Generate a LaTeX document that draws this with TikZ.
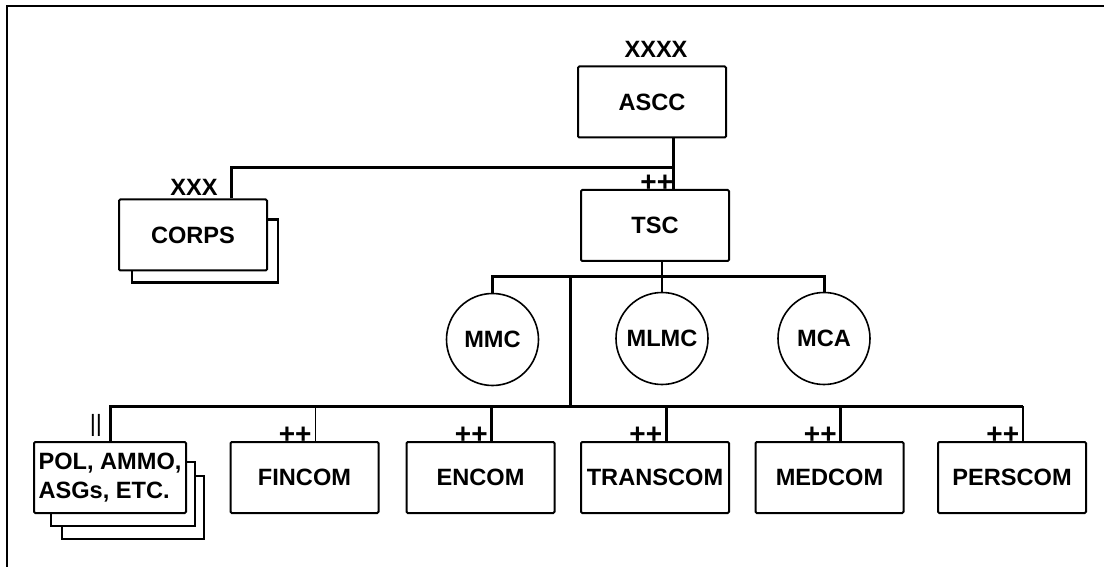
\documentclass[tikz,border=0pt]{standalone}
\usepackage{fontspec}
\setmainfont{Liberation Sans}

\begin{document}
\begin{tikzpicture}[x=0.5pt, y=-0.5pt,
  unitbox/.style={draw, line width=1pt, rounded corners=0.6pt, fill=white, minimum width=74pt, minimum height=35.5pt, inner sep=2pt, font=\fontsize{11.8}{14.5}\selectfont\bfseries},
  cellnode/.style={draw, circle, line width=0.8pt, minimum size=46pt, inner sep=0pt, font=\fontsize{11.8}{14.5}\selectfont\bfseries},
  echelon/.style={inner sep=0pt, font=\fontsize{11.8}{14.5}\selectfont\bfseries, anchor=base},
  plus/.style={inner sep=0pt, font=\fontsize{14}{14}\selectfont\bfseries, anchor=base east},
  bus/.style={line width=1.5pt},
  stem/.style={line width=0.9pt},
  stack/.style={line width=1.1pt}]
\useasboundingbox (0,0) rectangle (1105,567);
\draw[line width=1.1pt] (7,567) -- (7,6) -- (1104,6);

%% top
\node[unitbox] (ascc) at (652,102) {ASCC};
\node[echelon] (ascc-ech) at ([shift={(4,-8)}]ascc.north) {XXXX};
\node[unitbox] (tsc) at (655,225.5) {TSC};
\node[plus] (tsc-ech) at ([shift={(18.5,3)}]tsc.north) {++};
\node[unitbox] (corps) at (193,235) {CORPS};
\node[echelon] (corps-ech) at ([shift={(1,-3)}]corps.north) {XXX};
\draw[stack] ([shift={(0,21)}]corps.north east) -| ([shift={(10,11)}]corps.south east) -| ([shift={(14,0)}]corps.south west);

\coordinate (hqbus) at (673,168);
\coordinate (cpsjoin) at (231,168);
\draw[bus] (ascc.south -| hqbus) -- (tsc.north -| hqbus);
\draw[bus] (hqbus) -- (cpsjoin) -- (cpsjoin |- corps.north);

%% management cells
\node[cellnode] (mmc) at (492.5,339.5) {MMC};
\node[cellnode] (mlmc) at (662,338.5) {MLMC};
\node[cellnode] (mca) at (824,338.5) {MCA};
\coordinate (cellbus) at (570,277);
\coordinate (cmdbus) at (570,406);
\draw[stem] (tsc.south -| mlmc) -- (mlmc.north);
\draw[bus] (mmc.north) -- (mmc.north |- cellbus) -- (mca.north |- cellbus) -- (mca.north);
\draw[bus] (cellbus) -- (cmdbus);

%% commands
\node[unitbox, minimum width=76pt, align=left] (pol) at (110,477.5) {POL, AMMO,\\ASGs, ETC.};
\node[inner sep=0pt, font=\fontsize{11.8}{14}\selectfont, anchor=base east] (pol-ech) at ([shift={(-7.5,-10)}]pol.north) {||};
\draw[stack] ([shift={(0,21)}]pol.north east) -| ([shift={(8,12)}]pol.south east) -| ([shift={(18,0)}]pol.south west);
\draw[stack] ([shift={(8,35)}]pol.north east) -| ([shift={(17,25)}]pol.south east) -| ([shift={(29,12)}]pol.south west);
\foreach \name/\lbl/\xpos/\lw in {fincom/FINCOM/304.5/0.9pt, encom/ENCOM/480.5/1.5pt, transcom/TRANSCOM/655/1.5pt, medcom/MEDCOM/829.5/1.5pt, perscom/PERSCOM/1012/1pt} {
  \node[unitbox] (\name) at (\xpos,477.5) {\lbl};
  \node[plus] (\name-ech) at ([shift={(7.5,3)}]\name.north) {++};
  \draw[line width=\lw] ([xshift=5.5pt]\name.north) -- ([xshift=5.5pt]\name.north |- cmdbus);
}
\draw[bus] (pol.north) -- (pol.north |- cmdbus) -- ([xshift=5.5pt]perscom.north |- cmdbus);
\end{tikzpicture}
\end{document}
